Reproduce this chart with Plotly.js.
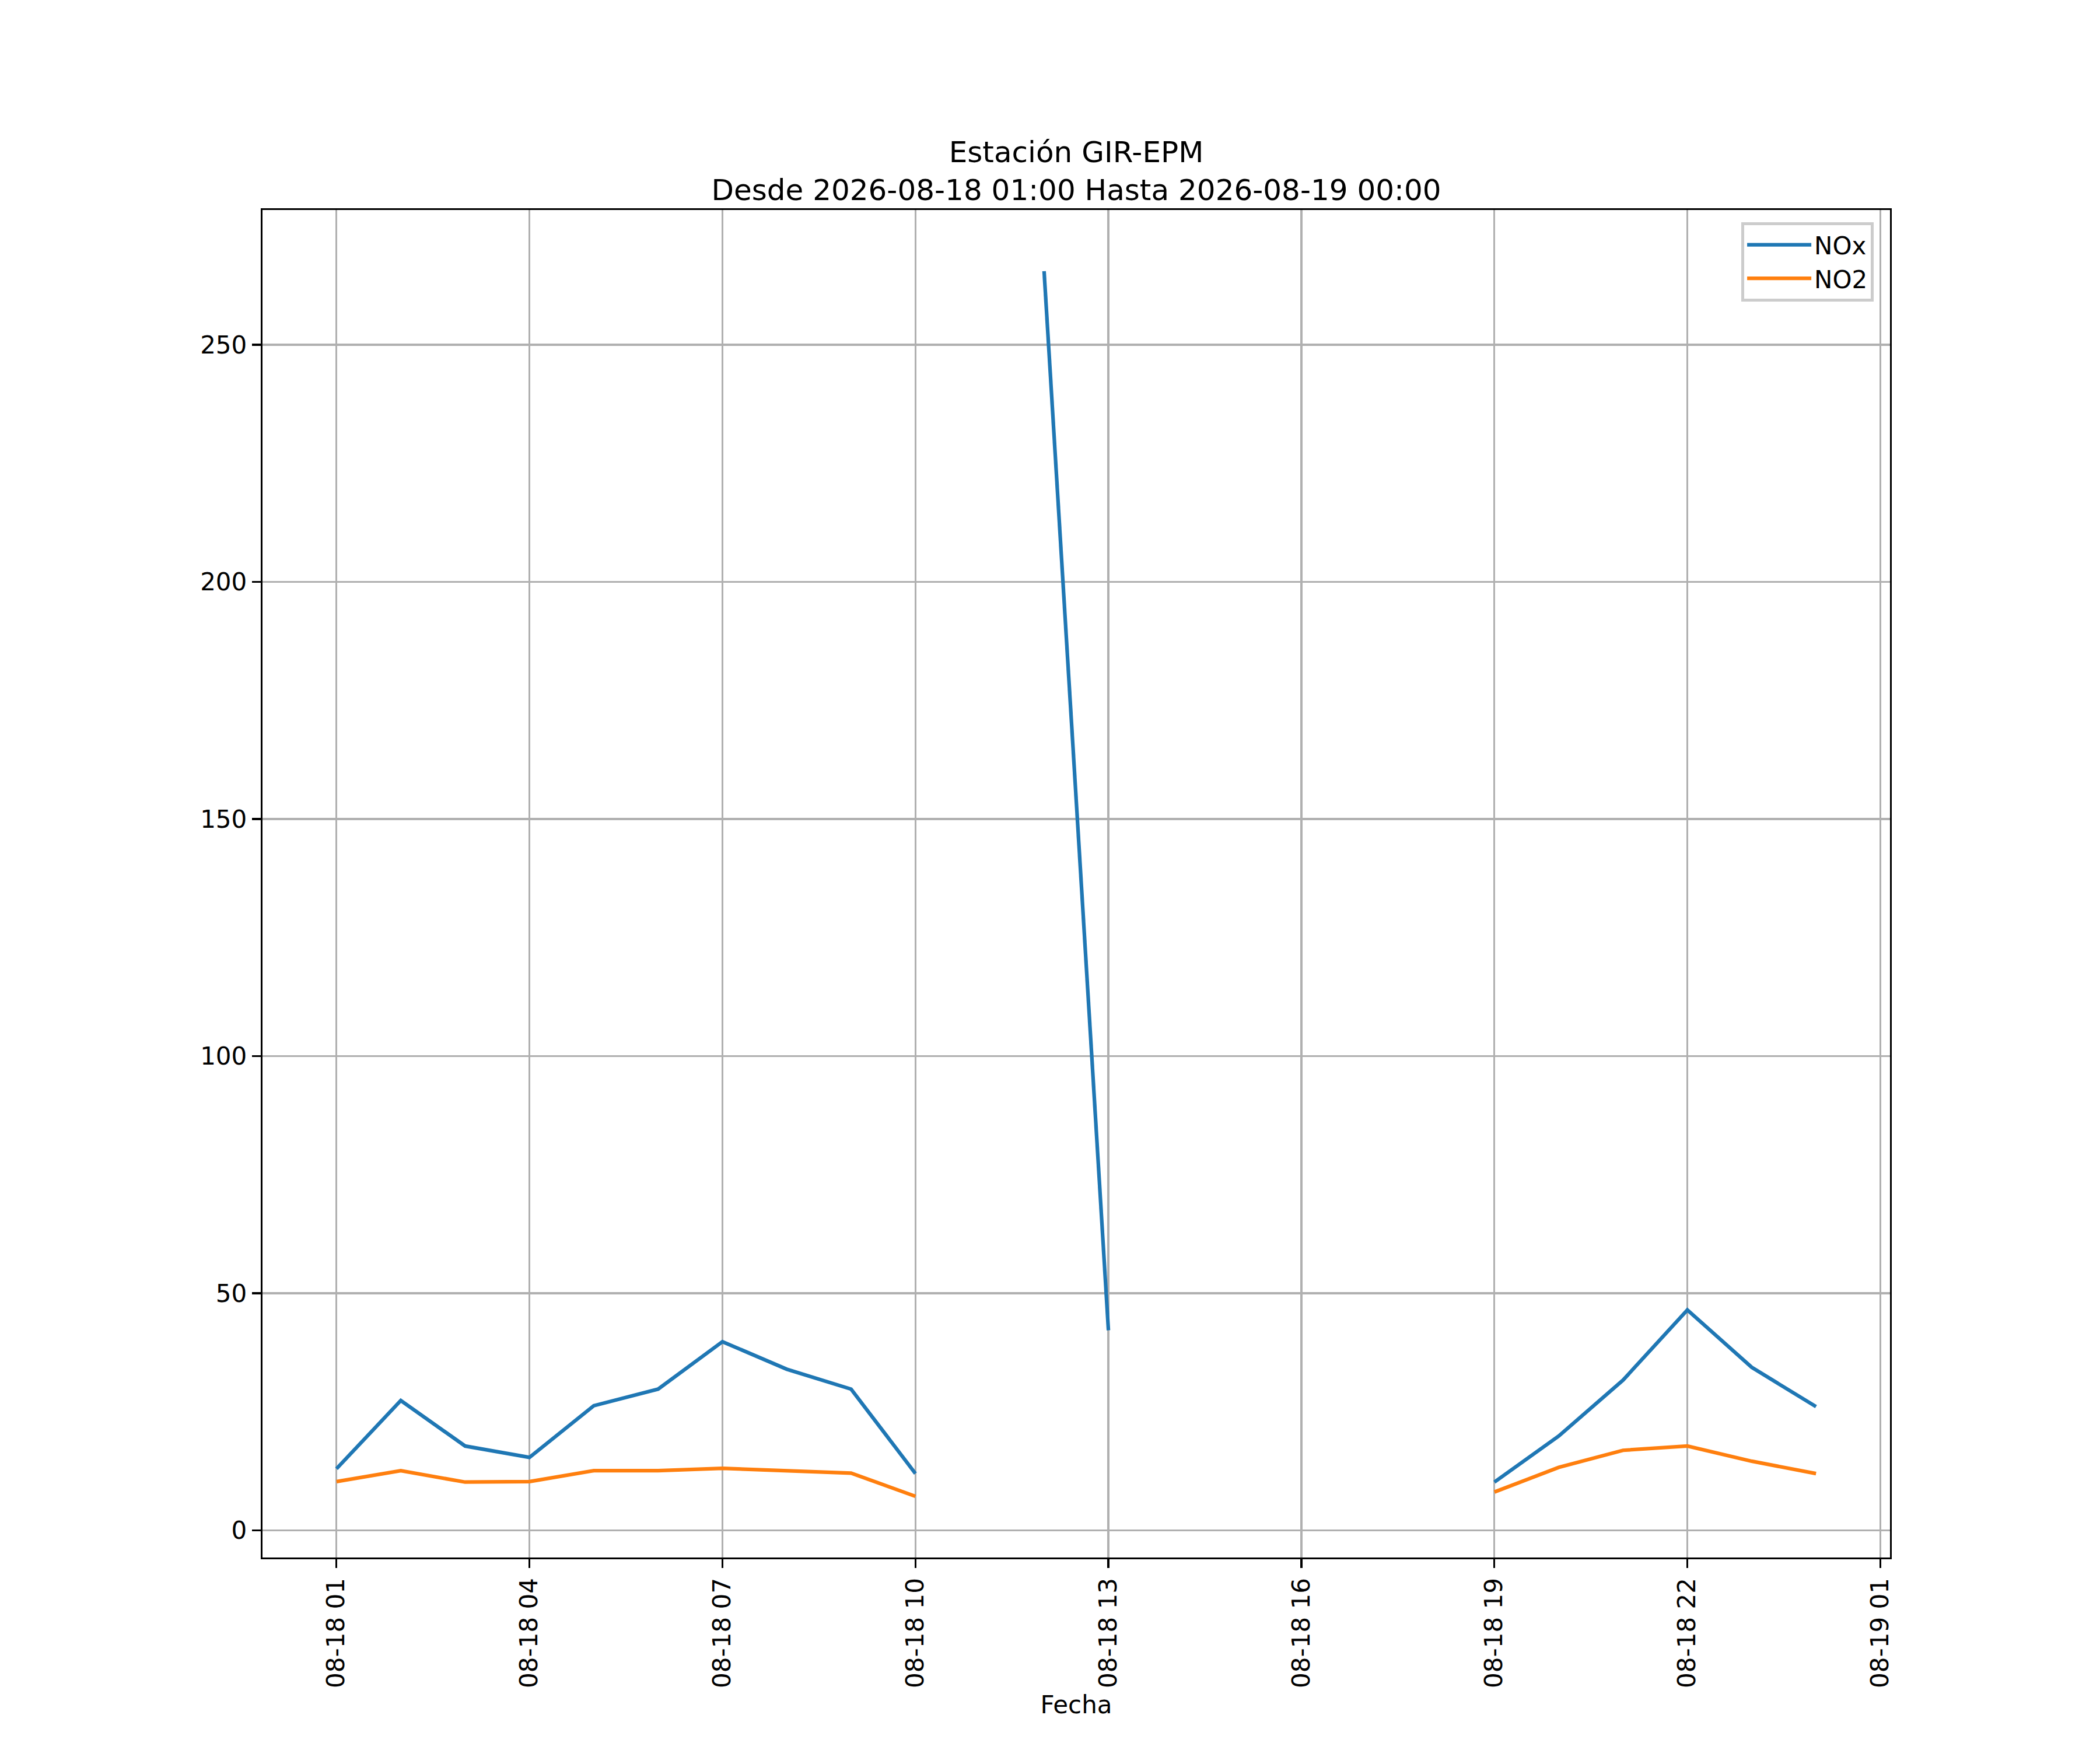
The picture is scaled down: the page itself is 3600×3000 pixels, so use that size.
<!DOCTYPE html>
<html>
<head>
<meta charset="utf-8">
<script src="https://cdn.plot.ly/plotly-3.0.1.min.js"></script>
<style>
  body { margin: 0; background: white; }
  #plot { width: 3600px; height: 3000px; }
</style>
</head>
<body>
<div id="plot"></div>
<script>
// Hourly timestamps, 2026-08-18 01:00 to 2026-08-19 00:00
const fechas = [
  '2026-08-18 01:00', '2026-08-18 02:00', '2026-08-18 03:00', '2026-08-18 04:00',
  '2026-08-18 05:00', '2026-08-18 06:00', '2026-08-18 07:00', '2026-08-18 08:00',
  '2026-08-18 09:00', '2026-08-18 10:00', '2026-08-18 11:00', '2026-08-18 12:00',
  '2026-08-18 13:00', '2026-08-18 14:00', '2026-08-18 15:00', '2026-08-18 16:00',
  '2026-08-18 17:00', '2026-08-18 18:00', '2026-08-18 19:00', '2026-08-18 20:00',
  '2026-08-18 21:00', '2026-08-18 22:00', '2026-08-18 23:00', '2026-08-19 00:00'
];

// Concentrations (null = no data)
const nox = [13.0, 27.4, 17.8, 15.4, 26.3, 29.8, 39.8, 34.0, 29.8, 12.0, null, 265.5,
             42.2, null, null, null, null, null, 10.2, 19.9, 31.7, 46.5, 34.4, 26.1];
const no2 = [10.3, 12.6, 10.2, 10.3, 12.6, 12.6, 13.1, 12.6, 12.1, 7.2, null, null,
             null, null, null, null, null, null, 8.1, 13.3, 16.9, 17.8, 14.6, 12.0];

const titulo = 'Estación GIR-EPM<br>Desde 2026-08-18 01:00 Hasta 2026-08-19 00:00';

const plot = document.getElementById('plot');
const fuente = 'DejaVu Sans, sans-serif';

let traces = [
  {x: fechas, y: nox, type: 'scatter', mode: 'lines', name: 'NOx',
   line: {color: '#1f77b4', width: 6.25}, connectgaps: false},
  {x: fechas, y: no2, type: 'scatter', mode: 'lines', name: 'NO2',
   line: {color: '#ff7f0e', width: 6.25}, connectgaps: false}
];

Plotly.newPlot(plot, traces, {
  width: 3600, height: 3000,
  margin: {l: 450, r: 360, t: 360, b: 330},
  paper_bgcolor: 'white', plot_bgcolor: 'white',
  font: {family: fuente, size: 42, color: 'black'},
  title: {text: titulo, font: {size: 50}, x: 0.5125, xref: 'container',
          y: 0.9075, yref: 'container', yanchor: 'top'},
  xaxis: {
    type: 'date', range: ['2026-08-17 23:51', '2026-08-19 01:09'],
    tick0: '2026-08-18 01:00', dtick: 3 * 3600000, tickformat: '%m-%d %H',
    tickangle: -90, ticks: 'outside', ticklen: 15, tickwidth: 3.3, tickcolor: 'black',
    showline: true, mirror: true, linecolor: 'black', linewidth: 3.3,
    showgrid: true, gridcolor: '#b0b0b0', gridwidth: 3.3, zeroline: false,
    title: {text: 'Fecha', font: {size: 42}, standoff: 15}
  },
  yaxis: {
    range: [-5.7, 278.4], tick0: 0, dtick: 50,
    ticks: 'outside', ticklen: 15, tickwidth: 3.3, tickcolor: 'black',
    showline: true, mirror: true, linecolor: 'black', linewidth: 3.3,
    showgrid: true, gridcolor: '#b0b0b0', gridwidth: 3.3, zeroline: false
  },
  legend: {x: 0.99, y: 0.991, xanchor: 'right', yanchor: 'top',
           bgcolor: 'rgba(255,255,255,0.8)', bordercolor: '#cccccc', borderwidth: 5,
           itemwidth: 110, tracegroupgap: 8, font: {size: 42}},
  showlegend: true
}, {staticPlot: true});
</script>
</body>
</html>
